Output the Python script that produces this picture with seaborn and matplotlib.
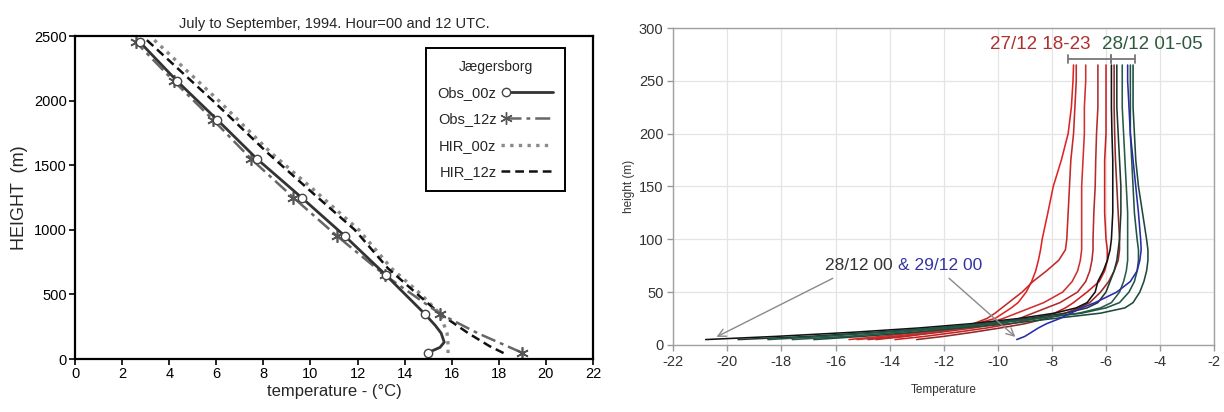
import numpy as np
import pandas as pd
import matplotlib
matplotlib.use("Agg")
import matplotlib.pyplot as plt
from matplotlib.lines import Line2D
from matplotlib.legend_handler import HandlerLine2D
import seaborn as sns

# ---------------- Left panel data (Jægersborg) ----------------
obs00_h = [50, 90, 130, 200, 260, 350, 650, 950, 1250, 1550, 1850, 2150, 2450]
obs00_t = [15.0, 15.5, 15.68, 15.55, 15.3, 14.85, 13.2, 11.47, 9.62, 7.72, 6.05, 4.34, 2.77]
obs00_marks = [0, 5, 6, 7, 8, 9, 10, 11, 12]

obs12_h = [50, 200, 350, 650, 950, 1250, 1550, 1850, 2150, 2450]
obs12_t = [18.97, 17.1, 15.5, 13.15, 11.14, 9.27, 7.47, 5.87, 4.2, 2.6]
obs12_marks = [0, 2, 3, 4, 5, 6, 7, 8, 9]

hir_h = [46, 100, 200, 350, 500, 700, 1000, 1300, 1600, 2000, 2480]
hir00_t = [15.84, 15.85, 15.8, 15.5, 14.7, 13.45, 12.05, 10.2, 8.3, 6.1, 3.3]
hir12_t = [18.2, 17.6, 16.7, 15.5, 14.55, 13.3, 11.88, 10.0, 8.15, 5.85, 2.98]

# ---------------- Right panel data (profiles) ----------------
prof_h = [5, 8, 12, 16, 20, 25, 30, 35, 40, 50, 60, 70, 80, 90, 100, 125, 150, 175, 200, 225, 250, 265]
R1 = [-15.5, -14.3, -12.9, -11.7, -10.8, -10.1, -9.8, -9.5, -9.25, -8.95, -8.75, -8.6, -8.5, -8.42, -8.36, -8.15, -7.95, -7.65, -7.4, -7.28, -7.22, -7.2]
R2 = [-14.5, -13.4, -12.3, -11.4, -10.9, -10.4, -10.1, -9.85, -9.6, -9.1, -8.7, -8.2, -7.75, -7.5, -7.45, -7.4, -7.35, -7.3, -7.2, -7.15, -7.1, -7.1]
R3 = [-15.2, -13.9, -12.5, -11.3, -10.4, -9.8, -9.3, -8.8, -8.3, -7.6, -7.25, -7.05, -6.95, -6.9, -6.9, -6.9, -6.9, -6.85, -6.8, -6.8, -6.75, -6.75]
R4 = [-14.8, -13.5, -12.1, -10.9, -9.9, -9.2, -8.7, -8.2, -7.7, -7.05, -6.75, -6.6, -6.52, -6.48, -6.48, -6.45, -6.4, -6.38, -6.35, -6.3, -6.3, -6.3]
R5 = [-13.8, -12.7, -11.5, -10.4, -9.5, -8.6, -7.9, -7.5, -7.2, -6.7, -6.25, -6.05, -5.95, -5.95, -6.0, -6.05, -6.05, -6.05, -6.0, -6.0, -6.0, -6.0]
R6 = [-13.0, -12.0, -10.9, -9.9, -9.0, -8.2, -7.5, -7.0, -6.6, -6.2, -5.9, -5.7, -5.55, -5.5, -5.5, -5.55, -5.6, -5.65, -5.68, -5.7, -5.7, -5.7]
B0 = [-20.8, -18.2, -15.3, -12.9, -11.0, -9.2, -7.9, -7.1, -6.7, -6.4, -6.3, -6.1, -5.95, -5.85, -5.8, -5.75, -5.75, -5.75, -5.78, -5.8, -5.8, -5.8]
G1 = [-19.6, -17.0, -14.5, -12.3, -10.6, -8.9, -7.5, -6.7, -6.3, -6.0, -5.85, -5.7, -5.6, -5.55, -5.5, -5.45, -5.45, -5.5, -5.55, -5.6, -5.6, -5.6]
G2 = [-17.6, -15.6, -13.6, -11.8, -10.2, -8.5, -7.0, -6.2, -5.8, -5.5, -5.35, -5.25, -5.2, -5.2, -5.2, -5.2, -5.25, -5.3, -5.35, -5.4, -5.4, -5.4]
G3 = [-18.5, -16.4, -14.2, -12.2, -10.4, -8.6, -6.9, -6.0, -5.5, -5.15, -4.95, -4.85, -4.8, -4.8, -4.85, -4.95, -5.0, -5.05, -5.1, -5.1, -5.1, -5.1]
G4 = [-16.8, -15.0, -13.0, -11.3, -9.6, -7.9, -6.2, -5.3, -5.0, -4.75, -4.6, -4.5, -4.45, -4.45, -4.5, -4.65, -4.8, -4.9, -4.95, -5.0, -5.0, -5.0]
BL = [-9.3, -9.0, -8.75, -8.5, -8.2, -7.7, -7.3, -6.9, -6.4, -5.6, -5.1, -4.85, -4.75, -4.7, -4.72, -4.8, -4.9, -5.0, -5.1, -5.15, -5.2, -5.2]

profiles = {"R1": R1, "R2": R2, "R3": R3, "R4": R4, "R5": R5, "R6": R6,
            "B0": B0, "G1": G1, "G2": G2, "G3": G3, "G4": G4, "BL": BL}
prof_colors = {"R1": "#e02424", "R2": "#c42828", "R3": "#d03030", "R4": "#b52a2a",
               "R5": "#cc2020", "R6": "#8e2a2a", "B0": "#111111", "G1": "#203a30",
               "G2": "#2a5a48", "G3": "#1f5545", "G4": "#1d4a3a", "BL": "#2b2ba8"}


class LeftMarkerHandler(HandlerLine2D):
    """Legend handle with the marker at the left end of the line sample."""
    def create_artists(self, legend, orig_handle, xdescent, ydescent,
                       width, height, fontsize, trans):
        x0 = -xdescent + 0.1 * width
        x1 = -xdescent + width
        y = (height - ydescent) / 2.0
        line = Line2D([x0, x1], [y, y])
        self.update_prop(line, orig_handle, legend)
        line.set_markevery([0])
        line.set_transform(trans)
        return [line]


# ---------------- Figure ----------------
sns.set_theme(style="white")
plt.rcParams["font.family"] = ["Liberation Sans", "DejaVu Sans"]
plt.rcParams["axes.unicode_minus"] = False

fig = plt.figure(figsize=(12.24, 4.12), dpi=100)
axL = fig.add_axes([0.0613, 0.1286, 0.4232, 0.784])
axR = fig.add_axes([0.5500, 0.1630, 0.4420, 0.769])

# ----- Left -----
dfo00 = pd.DataFrame({"t": obs00_t, "h": obs00_h})
dfo12 = pd.DataFrame({"t": obs12_t, "h": obs12_h})
dfh00 = pd.DataFrame({"t": hir00_t, "h": hir_h})
dfh12 = pd.DataFrame({"t": hir12_t, "h": hir_h})

sns.lineplot(data=dfh00, x="t", y="h", sort=False, estimator=None, ax=axL,
             color="#8a8a8a", lw=2.4, linestyle=(0, (1, 1.6)))
sns.lineplot(data=dfh12, x="t", y="h", sort=False, estimator=None, ax=axL,
             color="#111111", lw=1.8, linestyle=(0, (3.5, 2)))
sns.lineplot(data=dfo12, x="t", y="h", sort=False, estimator=None, ax=axL,
             color="#666666", lw=1.8, linestyle=(0, (6, 2, 1.5, 2)),
             marker=(6, 2, 0), markersize=9, markeredgewidth=1.2,
             markeredgecolor="#555555", markevery=obs12_marks)
sns.lineplot(data=dfo00, x="t", y="h", sort=False, estimator=None, ax=axL,
             color="#333333", lw=2.0, marker="o", markersize=6,
             markerfacecolor="white", markeredgecolor="#444444",
             markeredgewidth=1.0, markevery=obs00_marks)

axL.set_xlim(0, 22)
axL.set_ylim(0, 2500)
axL.set_xticks(np.arange(0, 23, 2))
axL.set_yticks(np.arange(0, 2501, 500))
axL.tick_params(direction="out", length=4, width=1.2, labelsize=10.5,
                bottom=True, left=True, colors="black", pad=2)
for s in axL.spines.values():
    s.set_color("black")
    s.set_linewidth(1.6)
axL.set_title("July to September, 1994. Hour=00 and 12 UTC.", fontsize=10.5, pad=6)
axL.set_xlabel("temperature - (°C)", fontsize=12, labelpad=2)
axL.set_ylabel("HEIGHT  (m)", fontsize=13, labelpad=4)

h_obs00 = Line2D([], [], color="#333333", lw=2.0, marker="o", markersize=6,
                 markerfacecolor="white", markeredgecolor="#444444")
h_obs12 = Line2D([], [], color="#666666", lw=1.8, linestyle=(0, (6, 2, 1.5, 2)),
                 marker=(6, 2, 0), markersize=9, markeredgecolor="#555555")
h_hir00 = Line2D([], [], color="#8a8a8a", lw=2.4, linestyle=(0, (1, 1.6)))
h_hir12 = Line2D([], [], color="#111111", lw=1.8, linestyle=(0, (3.5, 2)))
leg = axL.legend([h_obs00, h_obs12, h_hir00, h_hir12],
                 ["Obs_00z", "Obs_12z", "HIR_00z", "HIR_12z"],
                 handler_map={h_obs00: LeftMarkerHandler(),
                              h_obs12: LeftMarkerHandler()},
                 title="Jægersborg", markerfirst=False, loc="upper right",
                 bbox_to_anchor=(0.946, 0.963), borderaxespad=0.0,
                 fancybox=False, framealpha=1,
                 edgecolor="black", fontsize=10.5, title_fontsize=10,
                 handlelength=3.6, handletextpad=0.3, borderpad=0.8,
                 labelspacing=0.85)
leg.get_frame().set_linewidth(1.4)

# ----- Right -----
rows = []
for name, temps in profiles.items():
    for h, t in zip(prof_h, temps):
        rows.append({"profile": name, "height": h, "temp": t})
dfp = pd.DataFrame(rows)

axR.grid(True, color="#e4e4e4", lw=0.9)
sns.lineplot(data=dfp, x="temp", y="height", hue="profile", palette=prof_colors,
             sort=False, estimator=None, units="profile", legend=False,
             lw=1.15, ax=axR)

axR.set_xlim(-22, -2)
axR.set_ylim(0, 300)
axR.set_xticks(np.arange(-22, -1, 2))
axR.set_yticks(np.arange(0, 301, 50))
axR.tick_params(direction="out", length=4, width=1, labelsize=10.5,
                bottom=True, left=True, color="#999999", labelcolor="#333333", pad=3)
for s in axR.spines.values():
    s.set_color("#a0a0a0")
    s.set_linewidth(1.0)
axR.set_xlabel("Temperature", fontsize=8.5, color="#333333", labelpad=11)
axR.set_ylabel("height (m)", fontsize=8.5, color="#333333", labelpad=3)

axR.text(-8.43, 284, "27/12 18-23", color="#b03030", fontsize=13.5,
         ha="center", va="center")
axR.text(-4.3, 284, "28/12 01-05", color="#2d5a3d", fontsize=13.5,
         ha="center", va="center")
# brackets
for x0, x1 in [(-7.4, -5.8), (-5.8, -4.92)]:
    axR.plot([x0, x1], [270.5, 270.5], color="#777777", lw=1.3)
    for xx in (x0, x1):
        axR.plot([xx, xx], [266.5, 274.5], color="#777777", lw=1.3)

axR.text(-16.4, 75, "28/12 00", color="#333333", fontsize=12.5, ha="left", va="center")
axR.text(-13.7, 75, "& 29/12 00", color="#3535a0", fontsize=12.5, ha="left", va="center")
axR.annotate("", xy=(-20.4, 7.5), xytext=(-16.1, 63),
             arrowprops=dict(arrowstyle="->", color="#8a8a8a", lw=1.0,
                             mutation_scale=14, shrinkA=0, shrinkB=0))
axR.annotate("", xy=(-9.35, 7.5), xytext=(-11.8, 63),
             arrowprops=dict(arrowstyle="->", color="#8a8a8a", lw=1.0,
                             mutation_scale=14, shrinkA=0, shrinkB=0))

fig.savefig("out.png", dpi=100, facecolor="white")
